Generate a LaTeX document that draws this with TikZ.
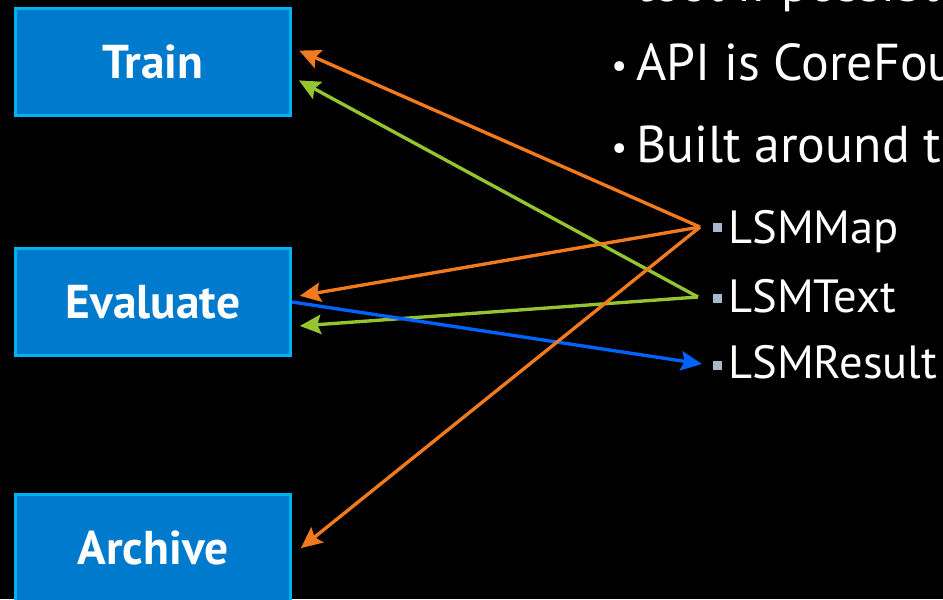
\documentclass[tikz,border=0pt]{standalone}
\usepackage{fontspec}
\setmainfont{PT Sans}
\usetikzlibrary{arrows.meta}
\definecolor{boxfill}{RGB}{0,122,204}
\definecolor{boxline}{RGB}{0,178,240}
\definecolor{arrorange}{RGB}{240,122,30}
\definecolor{arrgreen}{RGB}{150,196,48}
\definecolor{arrblue}{RGB}{0,98,255}
\definecolor{sqbullet}{RGB}{165,184,204}
\newcommand{\dotmark}{{\fontsize{20}{20}\selectfont\raisebox{1.5pt}{\textbullet}}\hspace{5pt}}
\tikzset{
  stagebox/.style={draw=boxline,fill=boxfill,line width=1.7pt,minimum width=5.5cm,minimum height=2.14cm,
    text=white,font=\fontsize{27}{30}\selectfont\bfseries},
  bigitem/.style={anchor=base west,text=white,inner sep=0pt,font=\fontsize{29.5}{36}\selectfont},
  subitem/.style={anchor=base west,text=white,inner sep=0pt,font=\fontsize{26.5}{32}\selectfont},
  sqmark/.style={fill=sqbullet,minimum size=0.18cm,inner sep=0pt},
  link/.style={line width=1.9pt,-{Stealth[length=12pt,width=11pt,inset=2pt]},shorten >=4.5pt}
}
\begin{document}
\begin{tikzpicture}[x=0.02cm,y=-0.02cm]
\fill[black] (0,0) rectangle (943,599);
\clip (0,0) rectangle (943,599);
\node[stagebox] (train) at (153,62) {Train};
\node[stagebox] (evaluate) at (153,302) {Evaluate};
\node[stagebox] (archive) at (153,548) {Archive};
\node[bigitem] (top) at (611,1) {\hphantom{\dotmark}tool if possible};
\node[bigitem] (api) at (611,80) {\dotmark API is CoreFoundation};
\node[bigitem] (built) at (611,162) {\dotmark Built around three};
\node[sqmark] (mapsq) at (717,227) {};
\node[sqmark] (textsq) at (717,298) {};
\node[sqmark] (resultsq) at (717,365) {};
\node[subitem] (map) at (728,243) {LSMMap};
\node[subitem] (text) at (728,312) {LSMText};
\node[subitem] (result) at (728,378) {LSMResult};
\coordinate (mapin) at (700,227);
\coordinate (textin) at (698,297);
\coordinate (resultin) at (702,364);
\draw[link,arrorange] (mapin) -- (train.6.6);
\draw[link,arrgreen] (textin) -- (train.-6.2);
\draw[link,arrorange] (mapin) -- (evaluate.2.5);
\draw[link,arrgreen] (textin) -- (evaluate.-10.6);
\draw[link,arrblue,shorten >=0pt] (evaluate.0.8) -- (resultin);
\draw[link,arrorange,shorten >=6.5pt] (mapin) -- (archive.-3.3);
\end{tikzpicture}
\end{document}
